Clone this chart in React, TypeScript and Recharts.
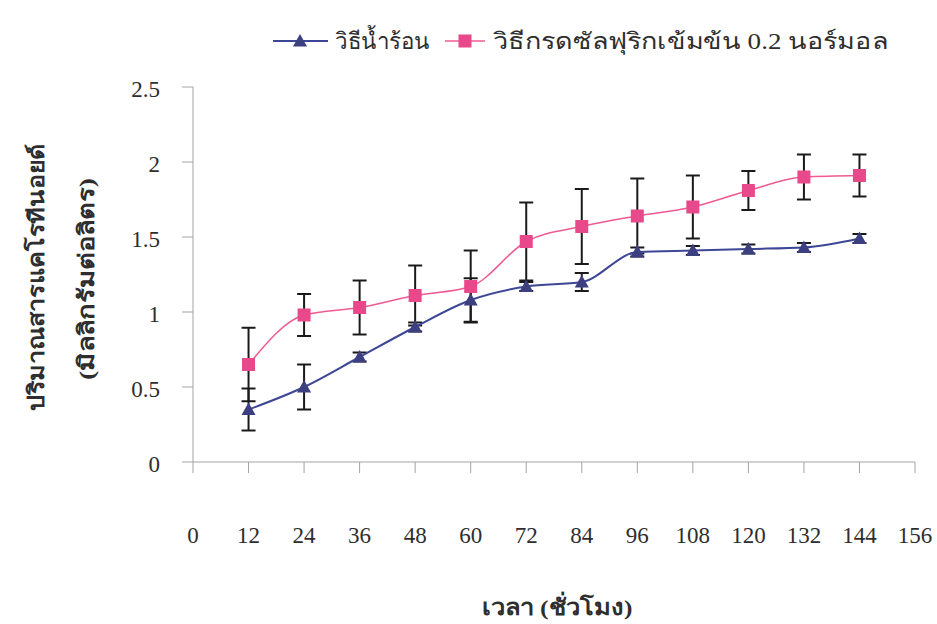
import { LineChart, Line, XAxis, YAxis, ErrorBar, Label } from "recharts";

// sampling times (hours)
const hours = [12, 24, 36, 48, 60, 72, 84, 96, 108, 120, 132, 144];

// hot water method: mean and SD (mg/L)
const hotWater = [0.35, 0.5, 0.7, 0.9, 1.08, 1.17, 1.2, 1.4, 1.41, 1.42, 1.43, 1.49];
const hotWaterSd = [0.14, 0.15, 0.03, 0.03, 0.145, 0.03, 0.06, 0.03, 0.03, 0.03, 0.03, 0.03];

// 0.2 N sulfuric acid method: mean and SD (mg/L)
const acid = [0.65, 0.98, 1.03, 1.11, 1.17, 1.47, 1.57, 1.64, 1.7, 1.81, 1.9, 1.91];
const acidSd = [0.245, 0.14, 0.18, 0.2, 0.24, 0.26, 0.25, 0.25, 0.21, 0.13, 0.15, 0.14];

const xTicks = [0, 12, 24, 36, 48, 60, 72, 84, 96, 108, 120, 132, 144, 156];
const yTicks = [0, 0.5, 1, 1.5, 2, 2.5];

const hotName = "วิธีน้ำร้อน";
const acidName = "วิธีกรดซัลฟุริกเข้มข้น 0.2 นอร์มอล";
const yTitle1 = "ปริมาณสารแคโรทีนอยด์";
const yTitle2 = "(มิลลิกรัมต่อลิตร)";
const xTitle = "เวลา (ชั่วโมง)";

const data = hours.map((h, i) => ({
  h,
  hot: hotWater[i],
  hotSd: hotWaterSd[i],
  acid: acid[i],
  acidSd: acidSd[i],
}));

const BLUE_LINE = "#3d4795";
const BLUE_MARK = "#3c3f80";
const PINK_LINE = "#ee5b92";
const PINK_MARK = "#e8498a";
const AXIS = "#a3a3a3";
const TEXT = "#2e2e2e";
const numFont = "'Liberation Serif', 'DejaVu Serif', serif";
const thaiFont = "'Liberation Serif', serif";

const triangle = (cx: number, cy: number, fill: string, key?: string | number) => (
  <polygon
    key={key}
    points={`${cx - 7},${cy + 5.5} ${cx + 7},${cy + 5.5} ${cx},${cy - 7}`}
    fill={fill}
  />
);

const square = (cx: number, cy: number, fill: string, key?: string | number) => (
  <rect key={key} x={cx - 6.5} y={cy - 6.5} width={13} height={13} fill={fill} />
);

const TriangleDot = (p: any) => triangle(p.cx, p.cy, BLUE_MARK, p.key ?? p.index);
const SquareDot = (p: any) => square(p.cx, p.cy, PINK_MARK, p.key ?? p.index);

function LegendRow() {
  return (
    <svg width={937} height={70} style={{ position: "absolute", left: 0, top: 0 }}>
      <line x1={273} y1={41} x2={328} y2={41} stroke={BLUE_LINE} strokeWidth={2} />
      {triangle(300, 41, BLUE_MARK)}
      <text
        x={335}
        y={41}
        dominantBaseline="central"
        fontFamily={thaiFont}
        fontSize={23}
        fill={TEXT}
        textLength={95}
        lengthAdjust="spacingAndGlyphs"
      >
        {hotName}
      </text>
      <line x1={445} y1={41} x2={485} y2={41} stroke={PINK_LINE} strokeWidth={1.5} />
      {square(465, 41, PINK_MARK)}
      <text
        x={493}
        y={41}
        dominantBaseline="central"
        fontFamily={thaiFont}
        fontSize={23}
        fill={TEXT}
        textLength={395}
        lengthAdjust="spacingAndGlyphs"
      >
        {acidName}
      </text>
    </svg>
  );
}

export default function App() {
  return (
    <div style={{ position: "absolute", left: 0, top: 0, width: 937, height: 624, background: "#fff" }}>
      <LineChart
        width={937}
        height={624}
        data={data}
        margin={{ top: 87, right: 22, bottom: 0, left: 0 }}
      >
        <XAxis
          dataKey="h"
          type="number"
          domain={[0, 156]}
          ticks={xTicks}
          interval={0}
          height={162}
          stroke={AXIS}
          tickSize={11}
          tickMargin={54}
          tick={{ fill: TEXT, fontFamily: numFont, fontSize: 23 }}
        >
          <Label
            content={() => (
              <text
                x={557}
                y={607}
                textAnchor="middle"
                dominantBaseline="central"
                fontFamily={thaiFont}
                fontWeight="bold"
                fontSize={22}
                fill={TEXT}
                textLength={151}
                lengthAdjust="spacingAndGlyphs"
              >
                {xTitle}
              </text>
            )}
          />
        </XAxis>
        <YAxis
          type="number"
          domain={[0, 2.5]}
          ticks={yTicks}
          interval={0}
          width={193}
          stroke={AXIS}
          tickSize={11}
          tickMargin={22}
          tick={{ fill: TEXT, fontFamily: numFont, fontSize: 23, dy: 2 }}
        >
          <Label
            content={() => (
              <g fontFamily={thaiFont} fontWeight="bold" fontSize={22} fill={TEXT}>
                <text
                  transform="translate(36,277) rotate(-90)"
                  textAnchor="middle"
                  dominantBaseline="central"
                  textLength={267}
                  lengthAdjust="spacingAndGlyphs"
                >
                  {yTitle1}
                </text>
                <text
                  transform="translate(86,279) rotate(-90)"
                  textAnchor="middle"
                  dominantBaseline="central"
                  textLength={202}
                  lengthAdjust="spacingAndGlyphs"
                >
                  {yTitle2}
                </text>
              </g>
            )}
          />
        </YAxis>
        <Line
          dataKey="acid"
          name={acidName}
          type="monotone"
          stroke={PINK_LINE}
          strokeWidth={1.5}
          dot={SquareDot}
          activeDot={false}
          isAnimationActive={false}
        >
          <ErrorBar dataKey="acidSd" direction="y" width={7} stroke="#1a1a1a" strokeWidth={2} />
        </Line>
        <Line
          dataKey="hot"
          name={hotName}
          type="monotone"
          stroke={BLUE_LINE}
          strokeWidth={2}
          dot={TriangleDot}
          activeDot={false}
          isAnimationActive={false}
        >
          <ErrorBar dataKey="hotSd" direction="y" width={7} stroke="#1a1a1a" strokeWidth={2} />
        </Line>
      </LineChart>
      <LegendRow />
    </div>
  );
}
